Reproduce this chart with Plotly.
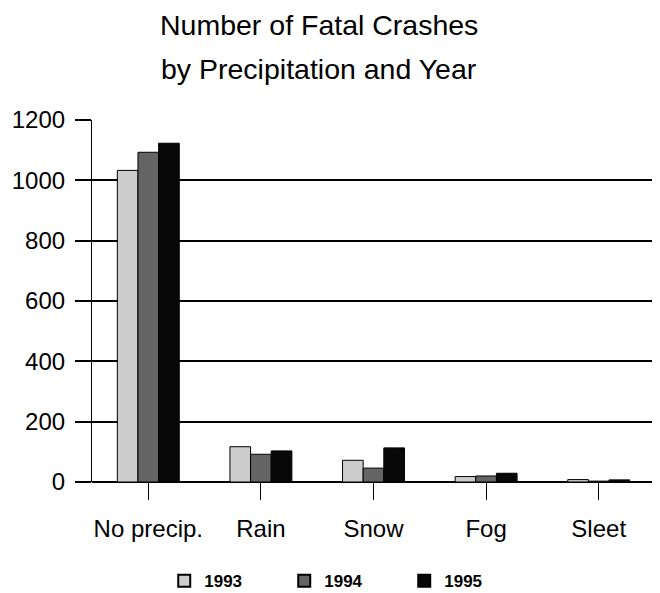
import plotly.graph_objects as go

categories = ["No precip.", "Rain", "Snow", "Fog", "Sleet"]
years = ["1993", "1994", "1995"]
values_1993 = [1033, 117, 72, 18, 8]
values_1994 = [1093, 92, 46, 20, 3]
values_1995 = [1123, 103, 113, 29, 7]
y_ticks = [0, 200, 400, 600, 800, 1000, 1200]

series = [values_1993, values_1994, values_1995]
colors = ["#cccccc", "#656565", "#080808"]

FONT = "Liberation Sans, Arial, sans-serif"

# page has an 8px body margin, so the figure is laid out 8px smaller/offset
W, H = 652, 585
L, T, PH, PW = 84, 112, 362, 563

fig = go.Figure()
for name, vals, col in zip(years, series, colors):
    fig.add_trace(go.Bar(
        x=categories, y=vals, name=name,
        marker=dict(color=col, line=dict(color="black", width=1)),
    ))

fig.update_layout(
    width=W, height=H,
    margin=dict(l=L, r=W - L - PW, t=T, b=H - T - PH, autoexpand=False),
    paper_bgcolor="white", plot_bgcolor="white",
    barmode="group", bargap=0.45, bargroupgap=0,
    font=dict(family=FONT, color="black", size=24),
    showlegend=True,
    legend=dict(
        orientation="h", x=0.448, xanchor="center", y=-0.224, yanchor="top",
        font=dict(family=FONT, size=17, color="black", weight="bold"),
        entrywidth=75, entrywidthmode="pixels",
        itemsizing="constant",
    ),
    annotations=[
        dict(text="Number of Fatal Crashes", xref="paper", yref="paper",
             x=0.403, y=(474 - 16.5) / PH, xanchor="center", yanchor="middle",
             showarrow=False, font=dict(size=28.5, family=FONT, color="black")),
        dict(text="by Precipitation and Year", xref="paper", yref="paper",
             x=0.403, y=(474 - 61.5) / PH, xanchor="center", yanchor="middle",
             showarrow=False, font=dict(size=28.5, family=FONT, color="black")),
    ],
)

fig.update_xaxes(
    type="category", range=[-0.5, 4.5], automargin=False,
    showgrid=False, showline=False, zeroline=False,
    ticks="outside", ticklen=17, tickwidth=1.2, tickcolor="black",
    tickfont=dict(size=24, family=FONT, color="black"),
    ticklabelstandoff=8,
)
fig.update_yaxes(
    range=[0, 1200], tickvals=y_ticks, automargin=False,
    showgrid=True, gridcolor="black", gridwidth=1.5,
    zeroline=True, zerolinecolor="black", zerolinewidth=1.5,
    showline=True, linecolor="black", linewidth=1.2,
    ticks="outside", ticklen=16, tickwidth=1.5, tickcolor="black",
    tickfont=dict(size=24, family=FONT, color="black"),
    ticklabelstandoff=5,
)

fig.write_html("out.html")
